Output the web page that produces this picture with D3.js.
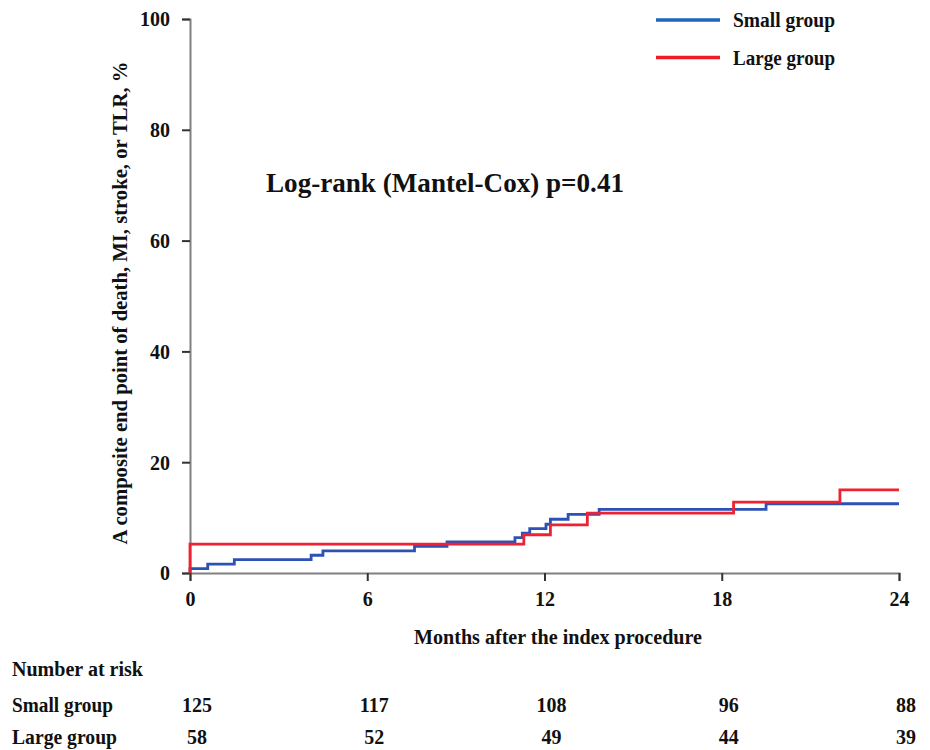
<!DOCTYPE html>
<html>
<head>
<meta charset="utf-8">
<script src="https://cdn.jsdelivr.net/npm/d3@7"></script>
<style>
  body { margin: 0; background: #fff; }
  svg text { font-family: "Liberation Serif", "Times New Roman", serif; font-weight: bold; fill: #111; }
</style>
</head>
<body>
<svg id="chart" width="930" height="750"></svg>
<script>
// step curves (months, cumulative %)
const smallTimes = [0, 0.6, 1.5, 4.1, 4.5, 7.6, 8.7, 11.0, 11.25, 11.5, 12.05, 12.2, 12.8, 13.85, 19.5];
const smallPct = [0.8, 1.6, 2.4, 3.2, 4.0, 4.8, 5.6, 6.4, 7.2, 8.0, 8.8, 9.7, 10.6, 11.5, 12.5];
const largeTimes = [0, 11.3, 12.2, 13.45, 18.4, 22.0];
const largePct = [5.2, 6.9, 8.7, 10.8, 12.8, 15.0];

const xTicks = [0, 6, 12, 18, 24];
const yTicks = [0, 20, 40, 60, 80, 100];

const riskGroups = ["Small group", "Large group"];
const smallAtRisk = [125, 117, 108, 96, 88];
const largeAtRisk = [58, 52, 49, 44, 39];

const blue = "#2d52b5";
const red = "#ee2233";

const svg = d3.select("#chart");

const x = d3.scaleLinear().domain([0, 24]).range([190, 899]);
const y = d3.scaleLinear().domain([0, 100]).range([573, 19]);

// axes
const yAxis = svg.append("g")
  .attr("transform", "translate(190,0)")
  .call(d3.axisLeft(y).tickValues(yTicks).tickSize(8).tickPadding(12));
const xAxis = svg.append("g")
  .attr("transform", "translate(0,573)")
  .call(d3.axisBottom(x).tickValues(xTicks).tickSize(8).tickPadding(11));

[yAxis, xAxis].forEach(a => {
  a.select(".domain").attr("stroke", "#808080").attr("stroke-width", 2);
  a.selectAll(".tick line").attr("stroke", "#333").attr("stroke-width", 2);
  a.selectAll(".tick text").style("font-size", "20px").attr("fill", "#111");
});
yAxis.selectAll(".tick text").attr("dy", "0.34em");

// curves
function steps(times, pct) {
  let pts = [[0, 0]];
  times.forEach((t, i) => pts.push([t, pct[i]]));
  pts.push([24, pct[pct.length - 1]]);
  return pts;
}
const line = d3.line()
  .x(d => x(d[0]))
  .y(d => y(d[1]))
  .curve(d3.curveStepAfter);

svg.append("path")
  .datum(steps(smallTimes, smallPct))
  .attr("d", line)
  .attr("fill", "none")
  .attr("stroke", blue)
  .attr("stroke-width", 2.8);

svg.append("path")
  .datum(steps(largeTimes, largePct))
  .attr("d", line)
  .attr("fill", "none")
  .attr("stroke", red)
  .attr("stroke-width", 2.8);

// legend
const legend = [["Small group", "#1e64c0", 20], ["Large group", "#f01c24", 57.5]];
legend.forEach(l => {
  svg.append("line")
    .attr("x1", 656).attr("x2", 720)
    .attr("y1", l[2]).attr("y2", l[2])
    .attr("stroke", l[1]).attr("stroke-width", 3.5);
  svg.append("text")
    .attr("x", 733).attr("y", l[2] + 7)
    .style("font-size", "20px")
    .attr("textLength", 102)
    .attr("lengthAdjust", "spacingAndGlyphs")
    .text(l[0]);
});

// log-rank note
svg.append("text")
  .attr("x", 266).attr("y", 192)
  .style("font-size", "28px")
  .attr("textLength", 358)
  .attr("lengthAdjust", "spacingAndGlyphs")
  .text("Log-rank (Mantel-Cox) p=0.41");

// axis titles
svg.append("text")
  .attr("transform", "translate(127,303) rotate(-90)")
  .attr("text-anchor", "middle")
  .style("font-size", "20px")
  .attr("textLength", 483)
  .attr("lengthAdjust", "spacingAndGlyphs")
  .text("A composite end point of death, MI, stroke, or TLR, %");

svg.append("text")
  .attr("x", 558).attr("y", 644)
  .attr("text-anchor", "middle")
  .style("font-size", "20px")
  .attr("textLength", 288)
  .attr("lengthAdjust", "spacingAndGlyphs")
  .text("Months after the index procedure");

// number at risk table
svg.append("text")
  .attr("x", 12).attr("y", 676)
  .style("font-size", "20px")
  .attr("textLength", 131)
  .attr("lengthAdjust", "spacingAndGlyphs")
  .text("Number at risk");

[smallAtRisk, largeAtRisk].forEach((row, i) => {
  const ry = 712 + i * 32;
  svg.append("text")
    .attr("x", 12).attr("y", ry)
    .style("font-size", "20px")
    .attr("textLength", i === 0 ? 101 : 105)
    .attr("lengthAdjust", "spacingAndGlyphs")
    .text(riskGroups[i]);
  svg.selectAll(null)
    .data(row)
    .enter()
    .append("text")
    .attr("x", (d, j) => x(xTicks[j]) + 7)
    .attr("y", ry)
    .attr("text-anchor", "middle")
    .style("font-size", "20px")
    .text(d => d);
});
</script>
</body>
</html>
